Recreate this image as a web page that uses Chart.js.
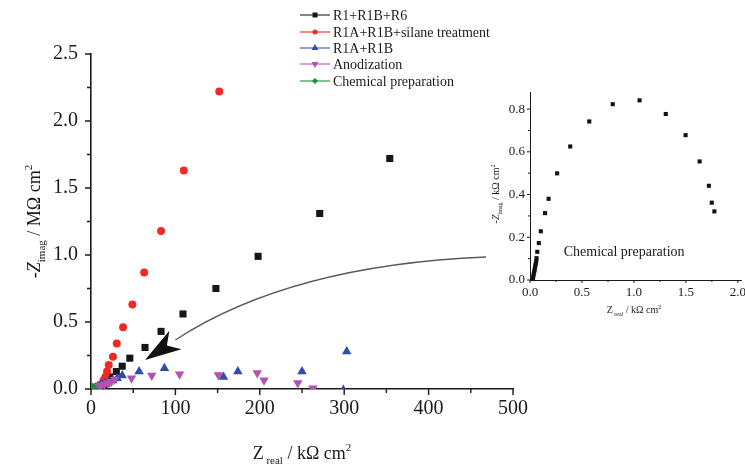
<!DOCTYPE html>
<html>
<head>
<meta charset="utf-8">
<script src="https://cdn.jsdelivr.net/npm/chart.js@4.4.1/dist/chart.umd.min.js"></script>
<style>
  html, body { margin: 0; padding: 0; background: #fff; }
  #wrap { position: relative; width: 745px; height: 466px; overflow: hidden; }
  #main { position: absolute; left: 0; top: 0; }
  #inset { position: absolute; left: 470px; top: 80px; }
</style>
</head>
<body>
<div id="wrap">
  <canvas id="main" width="745" height="466"></canvas>
  <canvas id="inset" width="275" height="250"></canvas>
</div>
<script>
const SERIF = '"Liberation Serif", "Times New Roman", serif';
const INK = '#1a1a1a';

// Nyquist data: Z_real in kΩ cm², -Z_imag in MΩ cm²
const seriesNames = ['R1+R1B+R6', 'R1A+R1B+silane treatment', 'R1A+R1B', 'Anodization', 'Chemical preparation'];

const realR6 = [3, 6, 9, 12, 15, 18, 22, 30, 37, 46, 64, 83, 109, 148, 198, 271, 354];
const imagR6 = [0.003, 0.006, 0.01, 0.015, 0.02, 0.04, 0.09, 0.13, 0.17, 0.23, 0.31, 0.43, 0.56, 0.75, 0.99, 1.31, 1.72];

const realSilane = [3, 6, 9, 11, 13, 15, 17, 19, 21, 26, 30.5, 38, 49, 63, 83, 110, 152];
const imagSilane = [0.004, 0.01, 0.018, 0.028, 0.04, 0.065, 0.09, 0.13, 0.18, 0.24, 0.34, 0.46, 0.63, 0.87, 1.18, 1.63, 2.22];

const realR1B = [2, 5, 8, 11, 14, 17, 21, 26, 31, 37, 57, 87, 157, 174, 250, 299, 303];
const imagR1B = [0.006, 0.012, 0.02, 0.028, 0.036, 0.045, 0.055, 0.065, 0.08, 0.10, 0.13, 0.155, 0.09, 0.13, 0.13, -0.008, 0.28];

const realAnod = [3, 6, 9, 12, 16, 20, 24, 28, 48, 72, 105, 151, 197, 205, 245, 263];
const imagAnod = [0.006, 0.012, 0.02, 0.028, 0.035, 0.045, 0.055, 0.07, 0.08, 0.10, 0.11, 0.105, 0.12, 0.065, 0.045, 0.005];

// chemical preparation, both parts in kΩ cm² (inset)
const chemReal = [0.028, 0.032, 0.036, 0.040, 0.044, 0.048, 0.052, 0.056, 0.060, 0.063, 0.070, 0.085, 0.104, 0.145, 0.179, 0.261, 0.387, 0.570, 0.796, 1.054, 1.306, 1.497, 1.632, 1.721, 1.749, 1.774];
const chemImag = [0.008, 0.018, 0.028, 0.038, 0.048, 0.058, 0.068, 0.078, 0.088, 0.102, 0.132, 0.173, 0.228, 0.313, 0.380, 0.499, 0.625, 0.742, 0.823, 0.841, 0.777, 0.678, 0.555, 0.441, 0.362, 0.321];

const xTicks = [0, 100, 200, 300, 400, 500];
const xTickLabels = ['0', '100', '200', '300', '400', '500'];
const xMinor = [50, 150, 250, 350, 450];
const yTicks = [0, 0.5, 1, 1.5, 2, 2.5];
const yTickLabels = ['0.0', '0.5', '1.0', '1.5', '2.0', '2.5'];
const yMinor = [0.25, 0.75, 1.25, 1.75, 2.25];

const insetXTicks = [0, 0.5, 1, 1.5, 2];
const insetXTickLabels = ['0.0', '0.5', '1.0', '1.5', '2.0'];
const insetXMinor = [0.25, 0.75, 1.25, 1.75];
const insetYTicks = [0, 0.2, 0.4, 0.6, 0.8];
const insetYTickLabels = ['0.0', '0.2', '0.4', '0.6', '0.8'];
const insetYMinor = [0.1, 0.3, 0.5, 0.7];

// annotation arrow (data units): tail, bend, neck, tip
const arrowTail = [468, 0.985];
const arrowBend = [236, 0.925];
const arrowNeck = [100, 0.366];
const arrowTip = [64, 0.216];

function pts(xs, ys) {
  return xs.map((x, i) => ({ x: x, y: ys[i] }));
}

function setTicks(scale, major, minor) {
  scale.ticks = major.concat(minor).sort((a, b) => a - b).map(v => ({ value: v }));
}

function tickLabel(v, major, labels) {
  const i = major.indexOf(v);
  return i < 0 ? '' : labels[i];
}

// draws a line of mixed-size text (sub/superscripts) centred on cx, baseline y
function richText(ctx, parts, cx, y) {
  let total = 0;
  parts.forEach(p => {
    ctx.font = (p.italic ? 'italic ' : '') + p.size + 'px ' + SERIF;
    p.w = ctx.measureText(p.t).width;
    total += p.w;
  });
  let x = cx - total / 2;
  parts.forEach(p => {
    ctx.font = (p.italic ? 'italic ' : '') + p.size + 'px ' + SERIF;
    ctx.fillText(p.t, x, y + (p.dy || 0));
    x += p.w;
  });
}

const tickMarks = {
  id: 'tickMarks',
  afterDraw(chart, args, o) {
    const { ctx, chartArea: a, scales: { x, y } } = chart;
    ctx.save();
    ctx.strokeStyle = INK;
    ctx.lineWidth = o.width;
    ctx.beginPath();
    o.xMajor.forEach(v => { const p = x.getPixelForValue(v); ctx.moveTo(p, a.bottom); ctx.lineTo(p, a.bottom + o.major); });
    o.xMinor.forEach(v => { const p = x.getPixelForValue(v); ctx.moveTo(p, a.bottom); ctx.lineTo(p, a.bottom + o.minor); });
    o.yMajor.forEach(v => { const p = y.getPixelForValue(v); ctx.moveTo(a.left, p); ctx.lineTo(a.left - o.major, p); });
    o.yMinor.forEach(v => { const p = y.getPixelForValue(v); ctx.moveTo(a.left, p); ctx.lineTo(a.left - o.minor, p); });
    ctx.stroke();
    ctx.restore();
  }
};

const legendLines = ['#333333', '#f03a34', '#4f5fb8', '#c262c0', '#2f9a45'];

const mainDecor = {
  id: 'mainDecor',
  afterDraw(chart) {
    const { ctx, scales: { x, y } } = chart;
    ctx.save();

    // arrow pointing at the low-frequency cluster
    const P = p => [x.getPixelForValue(p[0]), y.getPixelForValue(p[1])];
    const t0 = P(arrowTail), b = P(arrowBend), n = P(arrowNeck), tip = P(arrowTip);
    ctx.strokeStyle = '#5a5a5a';
    ctx.lineWidth = 1.3;
    ctx.beginPath();
    ctx.moveTo(t0[0], t0[1]);
    ctx.quadraticCurveTo(b[0], b[1], n[0], n[1]);
    ctx.stroke();
    const dx = tip[0] - n[0], dy = tip[1] - n[1];
    const len = Math.hypot(dx, dy);
    const ux = dx / len, uy = dy / len, vx = -uy, vy = ux;
    const hw = 11;
    ctx.fillStyle = '#111';
    ctx.beginPath();
    ctx.moveTo(tip[0], tip[1]);
    ctx.lineTo(n[0] + vx * hw, n[1] + vy * hw);
    ctx.lineTo(tip[0] - ux * len * 0.72, tip[1] - uy * len * 0.72);
    ctx.lineTo(n[0] - vx * hw, n[1] - vy * hw);
    ctx.closePath();
    ctx.fill();

    // legend
    ctx.textBaseline = 'middle';
    ctx.textAlign = 'left';
    const rows = [15, 32, 48, 64, 81];
    chart.data.datasets.forEach((ds, i) => {
      const yy = rows[i];
      ctx.strokeStyle = legendLines[i];
      ctx.lineWidth = 1.2;
      ctx.beginPath();
      ctx.moveTo(300, yy);
      ctx.lineTo(330, yy);
      ctx.stroke();
      ctx.fillStyle = ds.backgroundColor;
      Chart.helpers.drawPoint(ctx, {
        pointStyle: ds.pointStyle,
        radius: ds.legendRadius,
        rotation: ds.pointRotation || 0,
        borderWidth: 0
      }, 315, yy);
      ctx.fillStyle = INK;
      ctx.font = '14px ' + SERIF;
      ctx.fillText(ds.label, 333, yy + 1);
    });

    // axis titles
    ctx.textBaseline = 'alphabetic';
    ctx.fillStyle = INK;
    const cx = (chart.chartArea.left + chart.chartArea.right) / 2;
    richText(ctx, [
      { t: 'Z', size: 18 },
      { t: ' real', size: 11, dy: 5 },
      { t: ' / kΩ cm', size: 18 },
      { t: '2', size: 11, dy: -8 }
    ], cx, 459);
    ctx.translate(40, (chart.chartArea.top + chart.chartArea.bottom) / 2);
    ctx.rotate(-Math.PI / 2);
    richText(ctx, [
      { t: '-Z', size: 18, italic: true },
      { t: 'imag', size: 11, dy: 5 },
      { t: ' / MΩ cm', size: 18 },
      { t: '2', size: 11, dy: -8 }
    ], 0, 0);
    ctx.restore();
  }
};

const axisFont = { family: SERIF, size: 20 };

new Chart(document.getElementById('main'), {
  type: 'scatter',
  data: {
    datasets: [
      { label: seriesNames[0], data: pts(realR6, imagR6), pointStyle: 'rect', pointRadius: 5, legendRadius: 3.5,
        backgroundColor: '#161616', borderColor: '#161616', borderWidth: 0, clip: 0, order: 4 },
      { label: seriesNames[1], data: pts(realSilane, imagSilane), pointStyle: 'circle', pointRadius: 4, legendRadius: 2.5,
        backgroundColor: '#ee2a24', borderColor: '#ee2a24', borderWidth: 0, clip: 0, order: 3 },
      { label: seriesNames[2], data: pts(realR1B, imagR1B), pointStyle: 'triangle', pointRadius: 5.5, legendRadius: 4,
        backgroundColor: '#2f4ea6', borderColor: '#2f4ea6', borderWidth: 0, clip: 0, order: 2 },
      { label: seriesNames[3], data: pts(realAnod, imagAnod), pointStyle: 'triangle', pointRotation: 180, pointRadius: 5.5, legendRadius: 4,
        backgroundColor: '#b452b2', borderColor: '#b452b2', borderWidth: 0, clip: 0, order: 1 },
      // same spectrum in MΩ on the vertical axis, it sits at the origin here
      { label: seriesNames[4], data: chemReal.map((v, i) => ({ x: v, y: chemImag[i] / 1000 })), pointStyle: 'rectRot', pointRadius: 6, legendRadius: 3,
        backgroundColor: '#1e8c3c', borderColor: '#1e8c3c', borderWidth: 0, clip: 0, order: 0 }
    ]
  },
  options: {
    responsive: false,
    animation: false,
    devicePixelRatio: 1,
    layout: { padding: { top: 54, right: 232, left: 0, bottom: 0 } },
    plugins: {
      legend: { display: false },
      tooltip: { enabled: false },
      tickMarks: { width: 1.4, major: 6, minor: 4, xMajor: xTicks, xMinor: xMinor, yMajor: yTicks, yMinor: yMinor }
    },
    scales: {
      x: {
        type: 'linear', min: 0, max: 500,
        afterBuildTicks: s => setTicks(s, xTicks, xMinor),
        afterFit: s => { s.height = 77; },
        grid: { display: false, drawTicks: false },
        border: { display: true, color: INK, width: 1.6 },
        ticks: { autoSkip: false, maxRotation: 0, padding: 8, color: INK, font: axisFont,
                 callback: v => tickLabel(v, xTicks, xTickLabels) }
      },
      y: {
        type: 'linear', min: 0, max: 2.5,
        afterBuildTicks: s => setTicks(s, yTicks, yMinor),
        afterFit: s => { s.width = 91; },
        grid: { display: false, drawTicks: false },
        border: { display: true, color: INK, width: 1.6 },
        ticks: { autoSkip: false, padding: 13, color: INK, font: axisFont,
                 callback: v => tickLabel(v, yTicks, yTickLabels) }
      }
    }
  },
  plugins: [tickMarks, mainDecor]
});

const insetDecor = {
  id: 'insetDecor',
  afterDraw(chart) {
    const { ctx, chartArea: a, scales: { x, y } } = chart;
    ctx.save();
    ctx.fillStyle = INK;
    ctx.font = '14px ' + SERIF;
    ctx.textAlign = 'center';
    ctx.textBaseline = 'middle';
    ctx.fillText(seriesNames[4], x.getPixelForValue(0.906), y.getPixelForValue(0.131));
    ctx.textAlign = 'left';
    ctx.textBaseline = 'alphabetic';
    const cx = (x.getPixelForValue(0) + x.getPixelForValue(2)) / 2;
    richText(ctx, [
      { t: 'Z', size: 10 },
      { t: ' real', size: 6, dy: 3 },
      { t: ' / kΩ cm', size: 10 },
      { t: '2', size: 6, dy: -4 }
    ], cx, 233);
    ctx.translate(29, (a.top + a.bottom) / 2 + 8);
    ctx.rotate(-Math.PI / 2);
    richText(ctx, [
      { t: '-Z', size: 10, italic: true },
      { t: 'imag', size: 6, dy: 3 },
      { t: ' / kΩ cm', size: 10 },
      { t: '2', size: 6, dy: -4 }
    ], 0, 0);
    ctx.restore();
  }
};

const insetFont = { family: SERIF, size: 13 };

new Chart(document.getElementById('inset'), {
  type: 'scatter',
  data: {
    datasets: [
      { label: seriesNames[4], data: pts(chemReal, chemImag), pointStyle: 'rect', pointRadius: 2.9,
        backgroundColor: '#111', borderColor: '#111', borderWidth: 0 }
    ]
  },
  options: {
    responsive: false,
    animation: false,
    devicePixelRatio: 1,
    layout: { padding: { top: 12, right: 0, left: 0, bottom: 0 } },
    plugins: {
      legend: { display: false },
      tooltip: { enabled: false },
      tickMarks: { width: 1, major: 3, minor: 2, xMajor: insetXTicks, xMinor: insetXMinor, yMajor: insetYTicks, yMinor: insetYMinor }
    },
    scales: {
      x: {
        type: 'linear', min: 0, max: 2.03,
        afterBuildTicks: s => setTicks(s, insetXTicks, insetXMinor),
        afterFit: s => { s.height = 50; s.paddingRight = 0; s.paddingLeft = 0; },
        grid: { display: false, drawTicks: false },
        border: { display: true, color: INK, width: 1 },
        ticks: { autoSkip: false, maxRotation: 0, padding: 5, color: INK, font: insetFont,
                 callback: v => tickLabel(v, insetXTicks, insetXTickLabels) }
      },
      y: {
        type: 'linear', min: 0, max: 0.88,
        afterBuildTicks: s => setTicks(s, insetYTicks, insetYMinor),
        afterFit: s => { s.width = 60; s.paddingTop = 0; s.paddingBottom = 0; },
        grid: { display: false, drawTicks: false },
        border: { display: true, color: INK, width: 1 },
        ticks: { autoSkip: false, padding: 5, color: INK, font: insetFont,
                 callback: v => tickLabel(v, insetYTicks, insetYTickLabels) }
      }
    }
  },
  plugins: [tickMarks, insetDecor]
});
</script>
</body>
</html>
